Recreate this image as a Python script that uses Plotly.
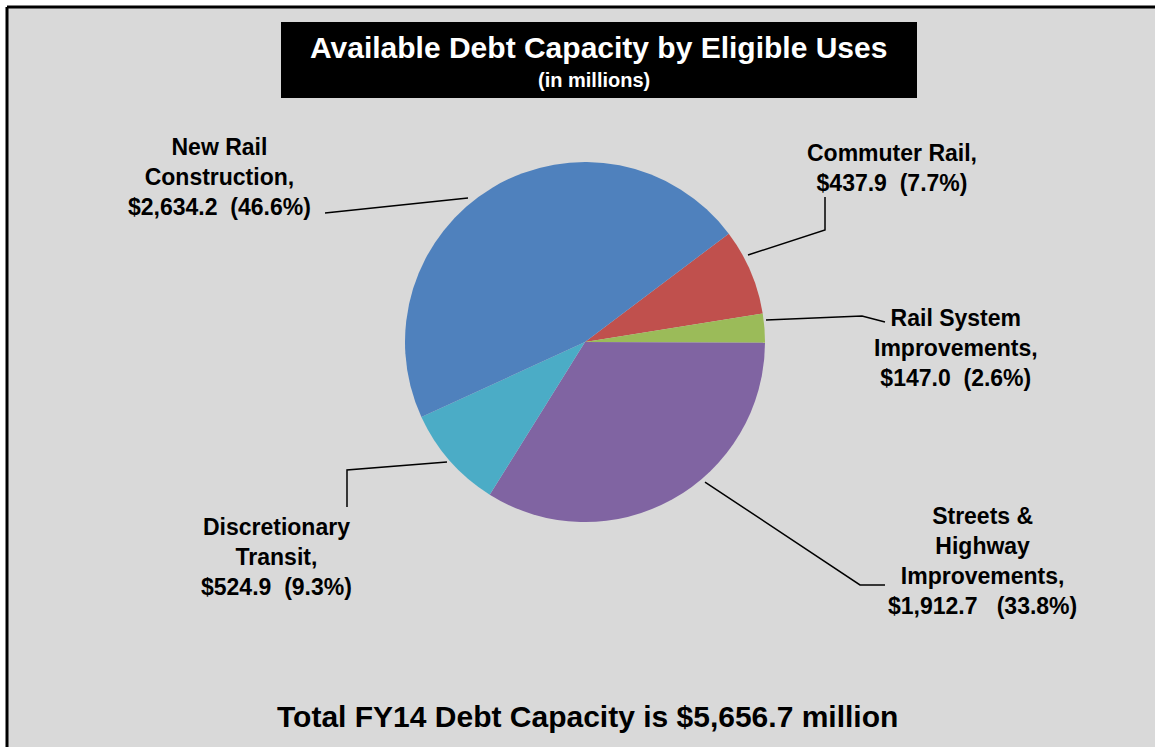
import plotly.graph_objects as go

W, H = 1155, 747

categories = ["Commuter Rail", "Rail System Improvements", "Streets & Highway Improvements",
              "Discretionary Transit", "New Rail Construction"]
values = [437.9, 147.0, 1912.7, 524.9, 2634.2]
percents = ["7.7%", "2.6%", "33.8%", "9.3%", "46.6%"]
colors = ["#C0504D", "#9BBB59", "#8064A2", "#4BACC6", "#4F81BD"]
label_texts = [
    "<b>Commuter Rail,<br>$437.9  (7.7%)</b>",
    "<b>Rail System<br>Improvements,<br>$147.0  (2.6%)</b>",
    "<b>Streets &<br>Highway<br>Improvements,<br>$1,912.7   (33.8%)</b>",
    "<b>Discretionary<br>Transit,<br>$524.9  (9.3%)</b>",
    "<b>New Rail<br>Construction,<br>$2,634.2  (46.6%)</b>",
]

def px(x):
    return x / W

def py(y):
    return 1 - y / H

cx, cy, r = 585, 342, 180

fig = go.Figure()
fig.add_trace(go.Pie(
    labels=categories, values=values, sort=False, direction="clockwise",
    rotation=53, marker=dict(colors=colors, line=dict(width=0)),
    textinfo="none", hoverinfo="label+value+percent", showlegend=False,
    domain=dict(x=[px(cx - r), px(cx + r)], y=[py(cy + r), py(cy - r)]),
))

shapes = [
    dict(type="rect", xref="paper", yref="paper", x0=px(7), x1=1.0, y0=py(7), y1=0.0,
         fillcolor="#D9D9D9", line=dict(width=0), layer="below"),
    dict(type="line", xref="paper", yref="paper", x0=px(7), x1=1.0, y0=py(7), y1=py(7),
         line=dict(color="black", width=3)),
    dict(type="line", xref="paper", yref="paper", x0=px(7), x1=px(7), y0=py(7), y1=0.0,
         line=dict(color="black", width=3)),
    dict(type="rect", xref="paper", yref="paper", x0=px(281), x1=px(917), y0=py(22), y1=py(98),
         fillcolor="black", line=dict(width=0), layer="below"),
]

# leader lines as pixel polylines: label side -> slice side
leaders = [
    [(825, 197), (825, 230), (748, 255)],
    [(885, 322), (862, 316), (766, 320)],
    [(885, 585), (860, 585), (705, 482)],
    [(347, 507), (347, 470), (447, 462)],
    [(325, 213), (468, 198)],
]
for pts in leaders:
    path = "M " + " L ".join(f"{px(x):.5f},{py(y):.5f}" for x, y in pts)
    shapes.append(dict(type="path", xref="paper", yref="paper", path=path,
                       line=dict(color="black", width=1.5)))

label_pos = [(892, 168), (956, 348), (982, 561), (276, 557), (219, 177)]

annotations = []
for txt, (x, y) in zip(label_texts, label_pos):
    annotations.append(dict(text=txt, x=px(x), y=py(y), xref="paper", yref="paper",
                            showarrow=False, align="center", xanchor="center", yanchor="middle",
                            font=dict(family="Liberation Sans, Arial", size=23, color="black")))

annotations.append(dict(text="<b>Available Debt Capacity by Eligible Uses</b>", x=px(598), y=py(47),
                        xref="paper", yref="paper", showarrow=False, xanchor="center", yanchor="middle",
                        font=dict(family="Liberation Sans, Arial", size=30, color="white")))
annotations.append(dict(text="<b>(in millions)</b>", x=px(594), y=py(80),
                        xref="paper", yref="paper", showarrow=False, xanchor="center", yanchor="middle",
                        font=dict(family="Liberation Sans, Arial", size=20, color="white")))
annotations.append(dict(text="<b>Total FY14 Debt Capacity is $5,656.7 million</b>", x=px(587), y=py(716),
                        xref="paper", yref="paper", showarrow=False, xanchor="center", yanchor="middle",
                        font=dict(family="Liberation Sans, Arial", size=30, color="black")))

fig.update_layout(
    width=W, height=H, margin=dict(l=0, r=0, t=0, b=0),
    paper_bgcolor="white", plot_bgcolor="white",
    shapes=shapes, annotations=annotations,
)

fig.write_html("out.html", config={"displayModeBar": False},
               post_script="document.body.style.margin='0';document.body.style.overflow='hidden';")
